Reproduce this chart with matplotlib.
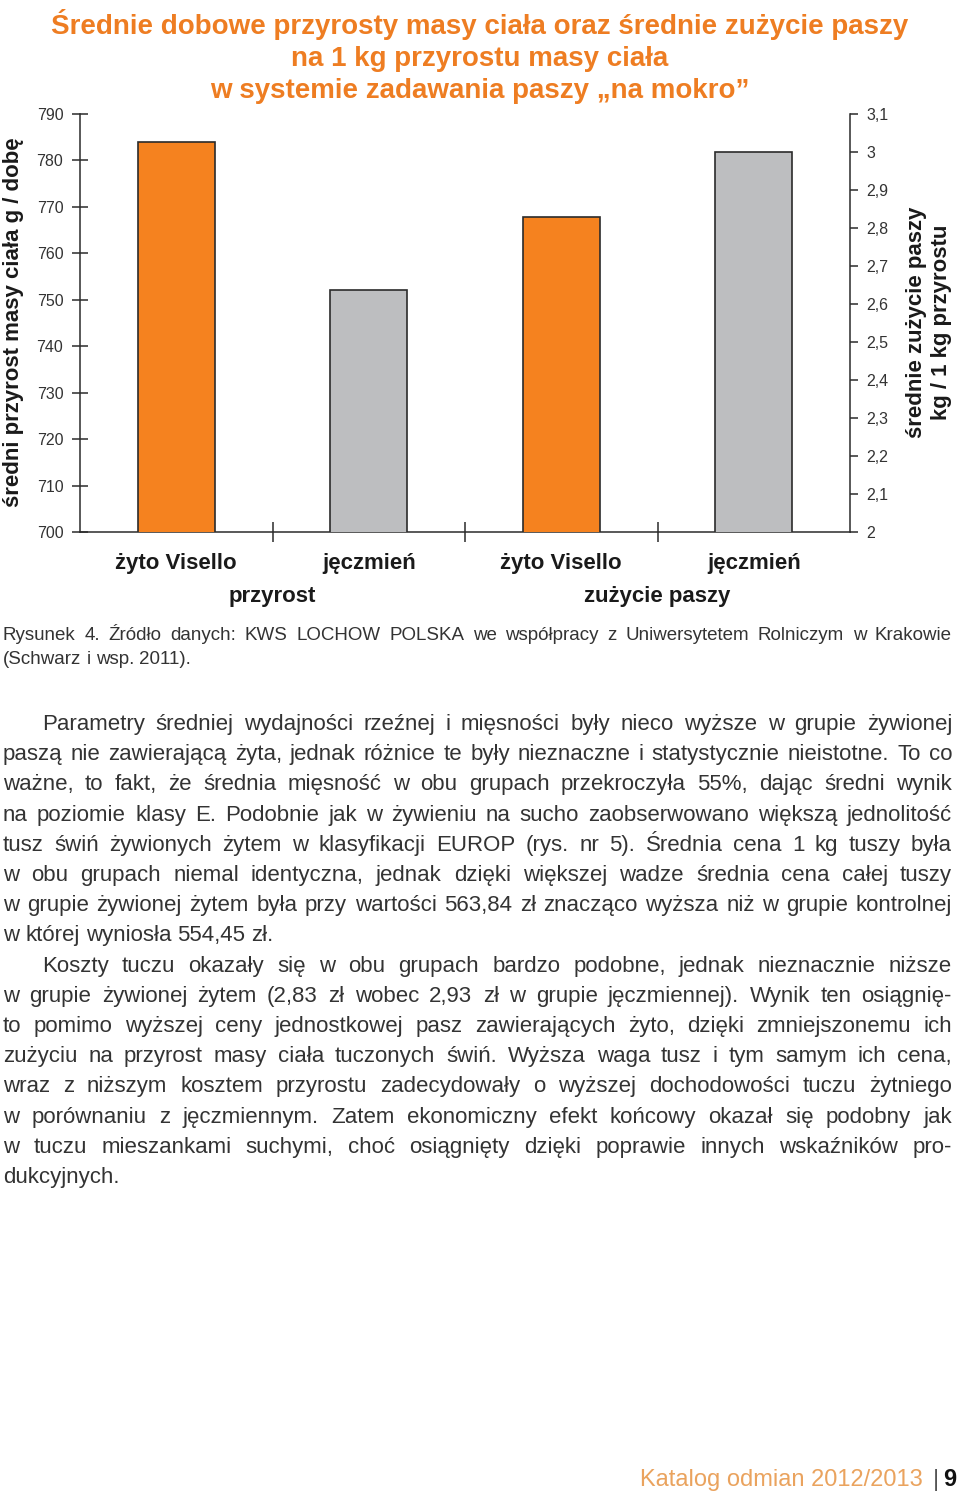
import matplotlib
matplotlib.use("Agg")
import matplotlib.pyplot as plt
from matplotlib.ticker import FuncFormatter, MultipleLocator

# =============== Data ===============
GROUPS       = ["przyrost", "zużycie paszy"]
FEEDS        = ["żyto Visello", "jęczmień"]
GAIN_G_DAY   = [784, 752]          # left axis, g / dobę
FEED_KG_KG   = [2.83, 3.00]        # right axis, kg / 1 kg przyrostu

TITLE = ("Średnie dobowe przyrosty masy ciała oraz średnie zużycie paszy\n"
         "na 1 kg przyrostu masy ciała\n"
         "w systemie zadawania paszy \u201ena mokro\u201d")
CAPTION = ["Rysunek 4. Źródło danych: KWS LOCHOW POLSKA we współpracy z Uniwersytetem Rolniczym w Krakowie",
           "(Schwarz i wsp. 2011)."]

# (line, indented, justified)
BODY = [
    ("Parametry średniej wydajności rzeźnej i mięsności były nieco wyższe w grupie żywionej", True, True),
    ("paszą nie zawierającą żyta, jednak różnice te były nieznaczne i statystycznie nieistotne. To co", False, True),
    ("ważne, to fakt, że średnia mięsność w obu grupach przekroczyła 55%, dając średni wynik", False, True),
    ("na poziomie klasy E. Podobnie jak w żywieniu na sucho zaobserwowano większą jednolitość", False, True),
    ("tusz świń żywionych żytem w klasyfikacji EUROP (rys. nr 5). Średnia cena 1 kg tuszy była", False, True),
    ("w obu grupach niemal identyczna, jednak dzięki większej wadze średnia cena całej tuszy", False, True),
    ("w grupie żywionej żytem była przy wartości 563,84 zł znacząco wyższa niż w grupie kontrolnej", False, True),
    ("w której wyniosła 554,45 zł.", False, False),
    ("Koszty tuczu okazały się w obu grupach bardzo podobne, jednak nieznacznie niższe", True, True),
    ("w grupie żywionej żytem (2,83 zł wobec 2,93 zł w grupie jęczmiennej). Wynik ten osiągnię-", False, True),
    ("to pomimo wyższej ceny jednostkowej pasz zawierających żyto, dzięki zmniejszonemu ich", False, True),
    ("zużyciu na przyrost masy ciała tuczonych świń. Wyższa waga tusz i tym samym ich cena,", False, True),
    ("wraz z niższym kosztem przyrostu zadecydowały o wyższej dochodowości tuczu żytniego", False, True),
    ("w porównaniu z jęczmiennym. Zatem ekonomiczny efekt końcowy okazał się podobny jak", False, True),
    ("w tuczu mieszankami suchymi, choć osiągnięty dzięki poprawie innych wskaźników pro-", False, True),
    ("dukcyjnych.", False, False),
]

# =============== Style ===============
W, H = 960, 1499
ORANGE   = "#F5821F"
TITLE_C  = "#EE7D22"
GRAY     = "#BDBEC0"
EDGE     = "#2b2b2b"
TXT      = "#333333"
LABEL_C  = "#1a1a1a"
SANS     = ["Liberation Sans", "DejaVu Sans"]

plt.rcParams["font.family"] = SANS

fig = plt.figure(figsize=(W / 100, H / 100), dpi=100)

def fx(px):
    return px / W

def fy(py):
    return 1 - py / H

# axes box in pixels: x 80..850, y 114..532
ax = fig.add_axes([fx(80), fy(532), fx(850) - fx(80), (532 - 114) / H])
ax2 = ax.twinx()

colors = [ORANGE, GRAY]
for i in range(2):
    ax.bar(0.5 + i, GAIN_G_DAY[i], width=0.4, color=colors[i],
           edgecolor=EDGE, linewidth=1.2, zorder=3)
    ax2.bar(2.5 + i, FEED_KG_KG[i], width=0.4, color=colors[i],
            edgecolor=EDGE, linewidth=1.2, zorder=3)

ax.set_xlim(0, 4)
ax.set_ylim(700, 790)
ax2.set_ylim(2, 3.1)

ax.yaxis.set_major_locator(MultipleLocator(10))
ax2.yaxis.set_major_locator(MultipleLocator(0.1))
ax2.yaxis.set_major_formatter(FuncFormatter(
    lambda v, p: (f"{v:.1f}".replace(".", ",")).replace(",0", "")))

ax.set_xticks([1, 2, 3])
ax.set_xticklabels([])
ax.tick_params(axis="x", direction="inout", length=14, width=1.1, color=EDGE)
ax.tick_params(axis="y", direction="inout", length=12, width=1.1, color=EDGE,
               labelsize=11.5, labelcolor=TXT, pad=6)
ax2.tick_params(axis="y", direction="out", length=6, width=1.1, color=EDGE,
                labelsize=11.5, labelcolor=TXT, pad=6)

for a in (ax, ax2):
    a.spines["top"].set_visible(False)
    for s in ("left", "right", "bottom"):
        a.spines[s].set_color(EDGE)
        a.spines[s].set_linewidth(1.1)
ax2.spines["left"].set_visible(False)
ax2.spines["bottom"].set_visible(False)
ax.spines["right"].set_visible(False)

# category labels under the axis
xt = ax.get_xaxis_transform()
for g in range(2):
    for i, name in enumerate(FEEDS):
        ax.text(0.5 + 2 * g + i, -0.075, name, transform=xt, ha="center", va="center",
                fontsize=16, fontweight="bold", color=LABEL_C)
    ax.text(1 + 2 * g, -0.154, GROUPS[g], transform=xt, ha="center", va="center",
            fontsize=16, fontweight="bold", color=LABEL_C)

# axis titles
fig.text(fx(14), fy(322), "średni przyrost masy ciała g / dobę", rotation=90,
         ha="center", va="center", fontsize=16, fontweight="bold", color=LABEL_C)
fig.text(fx(929), fy(322), "średnie zużycie paszy\nkg / 1 kg przyrostu", rotation=90,
         ha="center", va="center", fontsize=16, fontweight="bold",
         color=LABEL_C, linespacing=1.25)

# title
fig.text(0.5, fy(56), TITLE, ha="center", va="center", fontsize=20, fontweight="bold",
         color=TITLE_C, linespacing=1.3)

renderer = fig.canvas.get_renderer()

def justified(text, x0, x1, y, size, justify=True, color=TXT):
    """Place words of one line so they fill x0..x1 (pixels)."""
    words = text.split(" ")
    objs = [fig.text(fx(x0), fy(y), w, fontsize=size, color=color,
                     ha="left", va="baseline") for w in words]
    widths = [o.get_window_extent(renderer).width for o in objs]
    probe = fig.text(0, 0, "a a", fontsize=size)
    probe1 = fig.text(0, 0, "aa", fontsize=size)
    sp = probe.get_window_extent(renderer).width - probe1.get_window_extent(renderer).width
    probe.remove()
    probe1.remove()
    if justify and len(words) > 1:
        gap = (x1 - x0 - sum(widths)) / (len(words) - 1)
    else:
        gap = sp
    x = x0
    for o, w in zip(objs, widths):
        o.set_x(fx(x))
        x += w + gap

# caption
justified(CAPTION[0], 3, 952, 640, 13.5, justify=True)
justified(CAPTION[1], 3, 952, 664, 13.5, justify=False)

# body
y = 730
for line, indent, just in BODY:
    justified(line, 42 if indent else 3, 952, y, 16, justify=just)
    y += 30.2

# footer
fig.text(fx(923), fy(1486), "Katalog odmian 2012/2013", ha="right", va="baseline",
         fontsize=17, color="#EAA35E")
fig.text(fx(936), fy(1486), "|", ha="center", va="baseline", fontsize=17, color="#555555")
fig.text(fx(950), fy(1486), "9", ha="center", va="baseline", fontsize=17, fontweight="bold",
         color="#111111")

fig.savefig("out.png", dpi=100)
